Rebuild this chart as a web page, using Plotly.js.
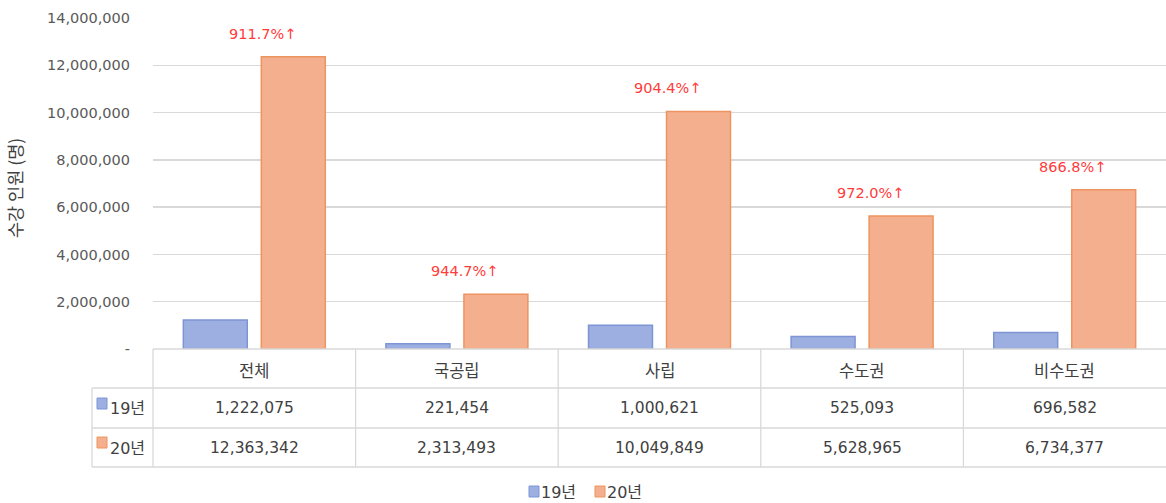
<!DOCTYPE html>
<html>
<head>
<meta charset="utf-8">
<script src="https://cdn.plot.ly/plotly-3.0.1.min.js"></script>
<style>html,body{margin:0;padding:0;background:#fff;}#chart{width:1166px;height:503px;}</style>
</head>
<body>
<div id="chart"></div>
<script>
const categories = ['전체', '국공립', '사립', '수도권', '비수도권'];
const seriesNames = ['19년', '20년'];
const values19 = [1222075, 221454, 1000621, 525093, 696582];
const values20 = [12363342, 2313493, 10049849, 5628965, 6734377];
const growthLabels = ['911.7%↑', '944.7%↑', '904.4%↑', '972.0%↑', '866.8%↑'];
const yTickVals = [0, 2000000, 4000000, 6000000, 8000000, 10000000, 12000000, 14000000];
const yTickText = ['-', '2,000,000', '4,000,000', '6,000,000', '8,000,000', '10,000,000', '12,000,000', '14,000,000'];
const yTitle = '수강 인원 (명)';

const W = 1166, H = 503, L = 153, R = 0, T = 18, B = 154;
const PW = W - L - R, PH = H - T - B;
const px = x => (x - L) / PW;
const py = y => (H - B - y) / PH;
const KFONT = '"Noto Sans CJK KR", "Noto Sans", sans-serif';
const NFONT = '"DejaVu Sans", "Noto Sans CJK KR", sans-serif';
const blueFill = '#9cafe0', blueLine = '#7d95d5';
const orangeFill = '#f4af8e', orangeLine = '#ee9460';
const gridC = '#d9d9d9', textC = '#404040';

const fmt = v => v.toLocaleString('en-US');

const traces = [
  {type: 'bar', name: seriesNames[0], x: categories, y: values19,
   marker: {color: blueFill, line: {color: blueLine, width: 1.5}}, hoverinfo: 'none'},
  {type: 'bar', name: seriesNames[1], x: categories, y: values20,
   marker: {color: orangeFill, line: {color: orangeLine, width: 1.5}}, hoverinfo: 'none'}
];

const shapes = [];
const annotations = [];
const line = (x0, y0, x1, y1) => shapes.push({type: 'line', xref: 'paper', yref: 'paper',
  x0: px(x0), y0: py(y0), x1: px(x1), y1: py(y1), line: {color: gridC, width: 1.3}});

// table rows
const rowTop = 349, row1 = 388, row2 = 428, row3 = 467, colLeft = 92;
line(L, rowTop, W, rowTop);
line(colLeft, row1, W, row1);
line(colLeft, row2, W, row2);
line(colLeft, row3, W, row3);
line(colLeft, row1, colLeft, row3);
const catW = PW / categories.length;
for (let i = 0; i < categories.length; i++) {
  line(L + i * catW, rowTop, L + i * catW, row3);
}

categories.forEach((c, i) => {
  annotations.push({xref: 'x', yref: 'paper', x: c, y: py((rowTop + row1) / 2 + 1), text: c,
    showarrow: false, font: {family: KFONT, size: 16.5, color: textC}, yanchor: 'middle'});
  annotations.push({xref: 'x', yref: 'paper', x: c, y: py((row1 + row2) / 2), text: fmt(values19[i]),
    showarrow: false, font: {family: NFONT, size: 15.5, color: textC}, yanchor: 'middle'});
  annotations.push({xref: 'x', yref: 'paper', x: c, y: py((row2 + row3) / 2), text: fmt(values20[i]),
    showarrow: false, font: {family: NFONT, size: 15.5, color: textC}, yanchor: 'middle'});
  annotations.push({xref: 'x', yref: 'y', x: c, y: values20[i], text: growthLabels[i],
    showarrow: false, xshift: 8, yshift: 23, yanchor: 'middle',
    font: {family: NFONT, size: 14.5, color: '#ff3b3b'}});
});

const key = (x, y, fill, ln) => shapes.push({type: 'rect', xref: 'paper', yref: 'paper',
  x0: px(x), x1: px(x + 10), y0: py(y), y1: py(y + 11), fillcolor: fill, line: {color: ln, width: 1}});
key(97, 398, blueFill, blueLine);
key(97, 437, orangeFill, orangeLine);
annotations.push({xref: 'paper', yref: 'paper', x: px(108), y: py(408), xanchor: 'left', yanchor: 'middle',
  text: seriesNames[0], showarrow: false, font: {family: NFONT, size: 16, color: textC}});
annotations.push({xref: 'paper', yref: 'paper', x: px(108), y: py(448), xanchor: 'left', yanchor: 'middle',
  text: seriesNames[1], showarrow: false, font: {family: NFONT, size: 16, color: textC}});

key(529, 486, blueFill, blueLine);
key(595, 486, orangeFill, orangeLine);
annotations.push({xref: 'paper', yref: 'paper', x: px(539), y: py(492), xanchor: 'left', yanchor: 'middle',
  text: seriesNames[0], showarrow: false, font: {family: NFONT, size: 16, color: textC}});
annotations.push({xref: 'paper', yref: 'paper', x: px(605), y: py(492), xanchor: 'left', yanchor: 'middle',
  text: seriesNames[1], showarrow: false, font: {family: NFONT, size: 16, color: textC}});

annotations.push({xref: 'paper', yref: 'paper', x: px(15), y: py(188), textangle: -90,
  text: yTitle, showarrow: false, xanchor: 'center', yanchor: 'middle',
  font: {family: KFONT, size: 17.5, color: textC}});

const layout = {
  width: W, height: H,
  margin: {l: L, r: R, t: T, b: B, autoexpand: false},
  paper_bgcolor: '#fff', plot_bgcolor: '#fff',
  showlegend: false,
  barmode: 'group', bargap: 0.23, bargroupgap: 0.18,
  xaxis: {type: 'category', showticklabels: false, showgrid: false, zeroline: false,
    showline: false, ticks: '', fixedrange: true},
  yaxis: {range: [0, 14000000], tickvals: yTickVals, ticktext: yTickText,
    showgrid: true, gridcolor: gridC, gridwidth: 1.3, zeroline: false, showline: false,
    ticks: '', ticklabelstandoff: 22,
    tickfont: {family: NFONT, size: 14.5, color: '#595959'}, fixedrange: true},
  shapes: shapes,
  annotations: annotations
};

Plotly.newPlot('chart', traces, layout, {displayModeBar: false, staticPlot: true});
</script>
</body>
</html>
